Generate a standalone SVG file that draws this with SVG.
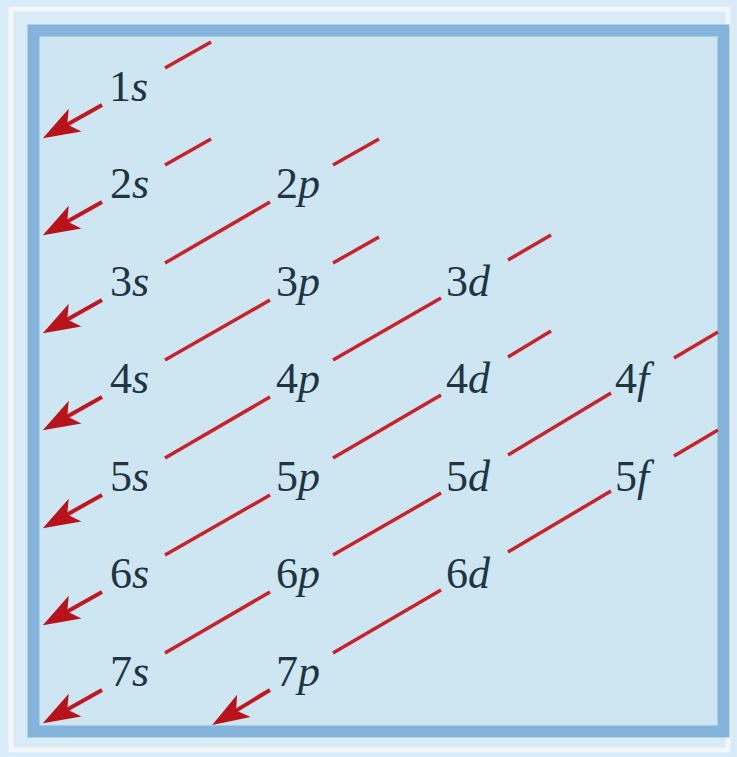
<svg xmlns="http://www.w3.org/2000/svg" width="737" height="757" viewBox="0 0 737 757" font-family="Liberation Serif, serif">
<style>
svg text, svg tspan, text, tspan, .lbl{font-family:"Liberation Serif",serif !important}
.lbl{font-size:44px;fill:#1f3542}
.it{font-style:italic}
.ln{stroke:#c8222b;stroke-width:3.5;fill:none}
.ar{stroke:#c01820;stroke-width:4;fill:none;marker-end:url(#ah)}
</style>
<defs>
<marker id="ah" markerUnits="userSpaceOnUse" viewBox="-20 -15 46 30" markerWidth="46" markerHeight="30" refX="0" refY="0" orient="auto" overflow="visible">
<path d="M22,0 L-15,-13 L-6,0 L-15,13 Z" fill="#b8121b"/>
</marker>
</defs>
<rect x="0" y="0" width="737" height="757" fill="#d9ebf6"/>
<rect x="11" y="9" width="717" height="741" fill="none" stroke="#f2f8fc" stroke-width="5"/>
<rect x="33.5" y="30.5" width="690" height="701" fill="#cde6f2" stroke="#84b4db" stroke-width="12"/>

<g id="connectors">
<line class="ln" x1="165" y1="68" x2="211" y2="42"/>
<line class="ln" x1="165" y1="165" x2="211" y2="139"/>
<line class="ln" x1="333" y1="165" x2="379" y2="139"/>
<line class="ln" x1="333" y1="263" x2="379" y2="237"/>
<line class="ln" x1="508" y1="260" x2="551" y2="235"/>
<line class="ln" x1="508" y1="357" x2="551" y2="331"/>
<line class="ln" x1="674" y1="358" x2="718" y2="332"/>
<line class="ln" x1="674" y1="456" x2="718" y2="430"/>
<line class="ln" x1="270" y1="202" x2="165" y2="263"/>
<line class="ln" x1="270" y1="300" x2="165" y2="360"/>
<line class="ln" x1="441" y1="298" x2="333" y2="360"/>
<line class="ln" x1="270" y1="397" x2="165" y2="458"/>
<line class="ln" x1="441" y1="395" x2="333" y2="458"/>
<line class="ln" x1="270" y1="495" x2="165" y2="555"/>
<line class="ln" x1="611" y1="393" x2="508" y2="455"/>
<line class="ln" x1="441" y1="493" x2="333" y2="555"/>
<line class="ln" x1="270" y1="592" x2="165" y2="653"/>
<line class="ln" x1="611" y1="491" x2="508" y2="552"/>
<line class="ln" x1="441" y1="590" x2="333" y2="653"/>
<line class="ar" x1="102" y1="105" x2="62" y2="127.4"/>
<line class="ar" x1="102" y1="202" x2="62" y2="224.4"/>
<line class="ar" x1="102" y1="300" x2="62" y2="322.4"/>
<line class="ar" x1="102" y1="397" x2="62" y2="419.4"/>
<line class="ar" x1="102" y1="495" x2="62" y2="517.4"/>
<line class="ar" x1="102" y1="592" x2="62" y2="614.4"/>
<line class="ar" x1="102" y1="690" x2="62" y2="712.4"/>
<line class="ar" x1="270" y1="690" x2="231" y2="713.6"/>
</g>

<g id="n1s"><text class="lbl" x="109" y="101">1<tspan class="it">s</tspan></text></g>
<g id="n2s"><text class="lbl" x="110" y="198">2<tspan class="it">s</tspan></text></g>
<g id="n2p"><text class="lbl" x="276" y="198">2<tspan class="it">p</tspan></text></g>
<g id="n3s"><text class="lbl" x="110" y="296">3<tspan class="it">s</tspan></text></g>
<g id="n3p"><text class="lbl" x="276" y="296">3<tspan class="it">p</tspan></text></g>
<g id="n3d"><text class="lbl" x="446" y="296">3<tspan class="it">d</tspan></text></g>
<g id="n4s"><text class="lbl" x="110" y="393">4<tspan class="it">s</tspan></text></g>
<g id="n4p"><text class="lbl" x="276" y="393">4<tspan class="it">p</tspan></text></g>
<g id="n4d"><text class="lbl" x="446" y="393">4<tspan class="it">d</tspan></text></g>
<g id="n4f"><text class="lbl" x="615" y="393">4<tspan class="it">f</tspan></text></g>
<g id="n5s"><text class="lbl" x="110" y="491">5<tspan class="it">s</tspan></text></g>
<g id="n5p"><text class="lbl" x="276" y="491">5<tspan class="it">p</tspan></text></g>
<g id="n5d"><text class="lbl" x="446" y="491">5<tspan class="it">d</tspan></text></g>
<g id="n5f"><text class="lbl" x="615" y="491">5<tspan class="it">f</tspan></text></g>
<g id="n6s"><text class="lbl" x="110" y="588">6<tspan class="it">s</tspan></text></g>
<g id="n6p"><text class="lbl" x="276" y="588">6<tspan class="it">p</tspan></text></g>
<g id="n6d"><text class="lbl" x="446" y="588">6<tspan class="it">d</tspan></text></g>
<g id="n7s"><text class="lbl" x="110" y="686">7<tspan class="it">s</tspan></text></g>
<g id="n7p"><text class="lbl" x="276" y="686">7<tspan class="it">p</tspan></text></g>
</svg>
